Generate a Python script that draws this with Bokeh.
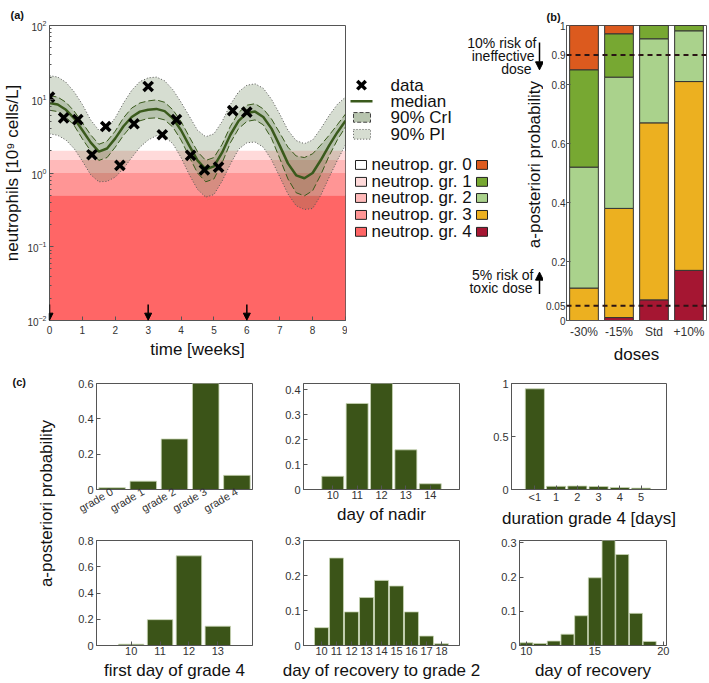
from math import pi
from bokeh.plotting import figure
from bokeh.models import (Range1d, FixedTicker, Arrow, NormalHead, Span,
                          ColumnDataSource, FactorRange)
from bokeh.layouts import row, column
from bokeh.embed import file_html
from bokeh.resources import INLINE
from bokeh.core.properties import value

FONT = "Liberation Sans"
AX = "#555555"
TXT = "#333333"
GREEN = "#5A7846"
DKGREEN = "#3A5A1C"
BARGREEN = "#3B5418"

# ---------------- panel (a) data ----------------
t_grid = [0.0, 0.25, 0.5, 0.75, 1.0, 1.25, 1.5, 1.75, 2.0, 2.25, 2.5, 2.75, 3.0, 3.25,
          3.5, 3.75, 4.0, 4.25, 4.5, 4.75, 5.0, 5.25, 5.5, 5.75, 6.0, 6.25, 6.5, 6.75,
          7.0, 7.25, 7.5, 7.75, 8.0, 8.25, 8.5, 8.75, 9.0]
median = [8.9, 8.5, 7.2, 5.5, 3.8, 2.6, 1.95, 2.15, 2.95, 4.3, 5.75, 6.8, 7.2, 7.4, 6.9,
          5.5, 3.8, 2.35, 1.48, 1.12, 1.23, 1.9, 3.3, 5.1, 6.5, 6.8, 5.75, 4.0, 2.35,
          1.35, 0.93, 0.85, 1.0, 1.5, 2.35, 3.55, 5.1]
cri_hi = [11.2, 10.7, 9.1, 6.9, 4.8, 3.3, 2.45, 2.7, 3.7, 5.6, 7.6, 8.9, 9.5, 9.8, 9.1,
          7.2, 5.0, 3.1, 1.95, 1.48, 1.62, 2.45, 4.3, 6.6, 8.3, 8.7, 7.4, 5.4, 3.5,
          2.24, 1.7, 1.62, 1.82, 2.4, 3.24, 4.5, 6.3]
cri_lo = [7.1, 6.8, 5.75, 4.4, 2.9, 2.0, 1.48, 1.62, 2.24, 3.24, 4.4, 5.1, 5.5, 5.6, 5.25,
          4.2, 2.8, 1.66, 1.0, 0.76, 0.83, 1.38, 2.57, 4.0, 5.0, 5.25, 4.5, 2.95, 1.58,
          0.83, 0.54, 0.49, 0.575, 0.95, 1.7, 2.8, 4.2]
pi_hi = [20.9, 20.0, 17.0, 12.6, 8.5, 5.25, 3.8, 4.0, 5.6, 8.9, 13.2, 17.4, 19.5, 20.0,
         17.8, 13.5, 9.1, 5.9, 3.8, 3.1, 3.4, 5.0, 8.5, 12.6, 15.5, 16.2, 14.1, 10.0,
         6.3, 3.8, 2.75, 2.5, 2.8, 4.0, 6.0, 8.5, 10.7]
pi_lo = [3.4, 3.24, 2.8, 2.14, 1.45, 0.95, 0.76, 0.77, 0.88, 1.15, 1.62, 2.24, 2.8, 3.2,
         3.1, 2.5, 1.62, 0.95, 0.6, 0.47, 0.51, 0.78, 1.32, 2.1, 2.57, 2.63, 2.24, 1.51,
         0.89, 0.52, 0.36, 0.32, 0.33, 0.50, 0.87, 1.48, 2.4]
t_obs = [0.0, 0.43, 0.86, 1.29, 1.71, 2.14, 2.57, 3.0, 3.43, 3.86, 4.29, 4.71, 5.14, 5.57, 6.0]
anc_obs = [10.7, 5.6, 5.3, 1.77, 4.27, 1.27, 4.65, 14.9, 3.3, 5.3, 1.73, 1.1, 1.2, 7.0, 6.7]
dose_times = [0, 3, 6]
# neutropenia grade bands (grade 4, 3, 2, 1)
band_lo = [0.001, 0.5, 1.0, 1.5]
band_hi = [0.5, 1.0, 1.5, 2.0]
band_colors = ["#FF6666", "#FF9595", "#FFB9B9", "#FFDADA"]

# ---------------- panel (b) data ----------------
doses = ["-30%", "-15%", "Std", "+10%"]
p_gr4 = [0.0, 0.01, 0.07, 0.17]
p_gr3 = [0.11, 0.37, 0.60, 0.64]
p_gr2 = [0.41, 0.445, 0.285, 0.172]
p_gr1 = [0.33, 0.147, 0.045, 0.018]
p_gr0 = [0.15, 0.028, 0.0, 0.0]
grade_colors = ["#DC5A1E", "#77A832", "#AAD28C", "#ECB020", "#A51632"]  # gr0..gr4

# ---------------- panel (c) data ----------------
grade_labels = ["grade 0", "grade 1", "grade 2", "grade 3", "grade 4"]
p_grade = [0.01, 0.047, 0.286, 0.60, 0.08]
nadir_days = [10, 11, 12, 13, 14]
p_nadir = [0.053, 0.345, 0.43, 0.159, 0.023]
dur_pos = [0, 1, 2, 3, 4, 5]
dur_labels = ["<1", "1", "2", "3", "4", "5"]
p_dur = [0.95, 0.03, 0.033, 0.028, 0.019, 0.013]
first_days = [10, 11, 12, 13]
p_first = [0.01, 0.197, 0.683, 0.147]
rec2_days = [10, 11, 12, 13, 14, 15, 16, 17, 18]
p_rec2 = [0.051, 0.25, 0.096, 0.137, 0.186, 0.17, 0.096, 0.027, 0.005]
rec_days = [10, 11, 12, 13, 14, 15, 16, 17, 18, 19]
p_rec = [0.008, 0.006, 0.013, 0.033, 0.087, 0.198, 0.308, 0.266, 0.094, 0.012]


def style(p, tick_size="11px", label_size="17px", tick_standoff=3, label_standoff=2):
    for ax in p.axis:
        ax.axis_line_color = AX
        ax.major_tick_line_color = AX
        ax.minor_tick_line_color = AX
        ax.major_tick_in = 4
        ax.major_tick_out = 0
        ax.minor_tick_in = 2
        ax.minor_tick_out = 0
        ax.major_label_text_font = FONT
        ax.major_label_text_font_size = tick_size
        ax.major_label_text_color = TXT
        ax.axis_label_text_font = FONT
        ax.axis_label_text_font_size = label_size
        ax.axis_label_text_font_style = "normal"
        ax.axis_label_text_color = "#111111"
        ax.major_label_standoff = tick_standoff
        ax.axis_label_standoff = label_standoff
    p.outline_line_color = AX
    p.grid.visible = False


def canvas(w, h):
    p = figure(width=w, height=h, x_range=Range1d(0, w), y_range=Range1d(h, 0),
               x_axis_location=None, y_axis_location=None, output_backend="svg",
               toolbar_location=None, min_border=0, outline_line_color=None)
    p.grid.visible = False
    return p


def txt(p, x, y, s, size, align="left", angle=0, style_="normal", color="#111111"):
    p.text(x=[x], y=[y], text=[s], text_font=value(FONT), text_font_size=size,
           text_align=align, text_baseline="middle", angle=angle,
           text_font_style=style_, text_color=color)


def panel_title(p, s, offset, standoff):
    p.title.text = s
    p.title.align = "left"
    p.title.offset = offset
    p.title.standoff = standoff
    p.title.text_font = FONT
    p.title.text_font_size = "11px"
    p.title.text_font_style = "bold"
    p.title.text_color = "#111111"


# ---------------- panel (a) ----------------
pa = figure(width=347, height=366, x_range=Range1d(0, 9), y_range=Range1d(0.01, 100),
            y_axis_type="log", output_backend="svg", toolbar_location=None,
            min_border_left=49, min_border_right=2, min_border_top=25, min_border_bottom=46)
pa.quad(left=0, right=9, bottom=band_lo, top=band_hi, fill_color=band_colors, line_color=None)
pa.varea(x=t_grid, y1=pi_lo, y2=pi_hi, fill_color=GREEN, fill_alpha=0.25)
pa.varea(x=t_grid, y1=cri_lo, y2=cri_hi, fill_color=GREEN, fill_alpha=0.25)
pa.line(t_grid, pi_lo, line_color="#555555", line_dash="1 2", line_width=1)
pa.line(t_grid, pi_hi, line_color="#555555", line_dash="1 2", line_width=1)
pa.line(t_grid, cri_lo, line_color=DKGREEN, line_dash="7 3", line_width=1)
pa.line(t_grid, cri_hi, line_color=DKGREEN, line_dash="7 3", line_width=1)
pa.line(t_grid, median, line_color=DKGREEN, line_width=2.5)
pa.scatter(t_obs, anc_obs, marker="x", size=13, line_color="black", line_width=3.5)
for d in dose_times:
    pa.add_layout(Arrow(end=NormalHead(size=7, fill_color="black", line_color="black"),
                        x_start=d, y_start=0.0165, x_end=d, y_end=0.0101,
                        line_color="black", line_width=1.5))
pa.xaxis.ticker = FixedTicker(ticks=list(range(10)))
pa.yaxis.ticker = FixedTicker(ticks=[0.01, 0.1, 1, 10, 100],
                              minor_ticks=[0.02, 0.03, 0.04, 0.05, 0.06, 0.07, 0.08, 0.09,
                                           0.2, 0.3, 0.4, 0.5, 0.6, 0.7, 0.8, 0.9,
                                           2, 3, 4, 5, 6, 7, 8, 9,
                                           20, 30, 40, 50, 60, 70, 80, 90])
pa.xaxis.axis_label = "time [weeks]"
pa.yaxis.axis_label = "neutrophils [10\u2079 cells/L]"
style(pa, tick_size="10px")
pa.xaxis.major_label_standoff = 5
pa.xaxis.axis_label_standoff = 3
panel_title(pa, "(a)", -39, 10)

# ---------------- legend / annotation strip ----------------
pl = canvas(196, 366)
pl.scatter(x=[14], y=[74], marker="x", size=12, line_color="black", line_width=3.5)
pl.line(x=[3, 25], y=[94, 94], line_color=DKGREEN, line_width=2.5)
pl.quad(left=[6], right=[23], top=[108], bottom=[120], fill_color=GREEN, fill_alpha=0.44,
        line_color="#444444", line_dash="4 2", line_width=1)
pl.quad(left=[6], right=[23], top=[129], bottom=[141], fill_color=GREEN, fill_alpha=0.25,
        line_color="#555555", line_dash="1 2", line_width=1)
for yy, s in zip([74, 94, 114, 135], ["data", "median", "90% CrI", "90% PI"]):
    txt(pl, 43, yy, s, "17px")
g_y = [173, 194, 214, 235, 256]
leg_a_colors = ["#FFFFFF", "#FFDADA", "#FFB9B9", "#FF9595", "#FF6666"]
pl.quad(left=[8] * 5, right=[19] * 5, top=[y - 5.5 for y in g_y], bottom=[y + 5.5 for y in g_y],
        fill_color=leg_a_colors, line_color="#222222", line_width=1)
pl.quad(left=[129] * 5, right=[140] * 5, top=[y - 5.5 for y in g_y], bottom=[y + 5.5 for y in g_y],
        fill_color=grade_colors, line_color="#222222", line_width=1)
for i, yy in enumerate(g_y):
    txt(pl, 24, yy, "neutrop. gr. %d" % i, "17px")
txt(pl, 189, 22, "10% risk of", "14px", align="right")
txt(pl, 187, 38, "ineffective", "14px", align="right")
txt(pl, 184, 54, "dose", "14px", align="right")
pl.add_layout(Arrow(end=NormalHead(size=8, fill_color="black", line_color="black"),
                    x_start=192, y_start=21, x_end=192, y_end=55, line_width=1.5))
txt(pl, 186, 309, "5% risk of", "14px", align="right")
txt(pl, 185, 326, "toxic dose", "14px", align="right")
pl.add_layout(Arrow(end=NormalHead(size=8, fill_color="black", line_color="black"),
                    x_start=192, y_start=333, x_end=192, y_end=306, line_width=1.5))
txt(pl, 187, 172.5, "a-posteriori probability", "17px", align="center", angle=pi / 2)

# ---------------- panel (b) ----------------
pb = figure(width=165, height=366, x_range=FactorRange(*doses), y_range=Range1d(0, 1),
            output_backend="svg", toolbar_location=None,
            min_border_left=23, min_border_right=2, min_border_top=22, min_border_bottom=43)
bsrc = ColumnDataSource(dict(dose=doses, g4=p_gr4, g3=p_gr3, g2=p_gr2, g1=p_gr1, g0=p_gr0))
pb.vbar_stack(["g4", "g3", "g2", "g1", "g0"], x="dose", width=0.82, source=bsrc,
              fill_color=[grade_colors[4], grade_colors[3], grade_colors[2],
                          grade_colors[1], grade_colors[0]],
              line_color="#333333", line_width=1)
pb.add_layout(Span(location=0.9, dimension="width", line_color="#2a1515",
                   line_dash="5 4", line_width=2))
pb.add_layout(Span(location=0.05, dimension="width", line_color="#2a1515",
                   line_dash="5 4", line_width=2))
b_ticks = [0, 0.05, 0.2, 0.4, 0.6, 0.8, 0.9, 1.0]
pb.yaxis.ticker = FixedTicker(ticks=b_ticks)
pb.yaxis.major_label_overrides = {0: "0", 0.05: "0.05", 0.2: "0.2", 0.4: "0.4",
                                  0.6: "0.6", 0.8: "0.8", 0.9: "0.9", 1.0: "1"}
pb.xaxis.axis_label = "doses"
style(pb, tick_size="10px")
pb.xaxis.major_tick_in = 0
pb.xaxis.major_label_text_font_size = "12px"
pb.xaxis.major_label_standoff = 4
pb.xaxis.axis_label_standoff = 3
pb.yaxis.major_label_standoff = 1
panel_title(pb, "(b)", -20, 6)

# ---------------- panel (c) ----------------
pc0 = canvas(56, 316)
txt(pc0, 12, 15, "(c)", "11px", style_="bold")
txt(pc0, 46, 137, "a-posteriori probability", "17px", align="center", angle=pi / 2)


def small(w, h, xr, y_end, mb, y_ticks, overrides, xlabel=None):
    p = figure(width=w, height=h, x_range=xr, y_range=Range1d(0, y_end),
               output_backend="svg", toolbar_location=None,
               min_border_left=mb[0], min_border_right=mb[1],
               min_border_top=mb[2], min_border_bottom=mb[3])
    p.yaxis.ticker = FixedTicker(ticks=y_ticks)
    p.yaxis.major_label_overrides = overrides
    if xlabel:
        p.xaxis.axis_label = xlabel
    style(p)
    p.xaxis.major_label_standoff = 1
    p.xaxis.axis_label_standoff = 3
    return p


c1 = small(226, 164, FactorRange(*grade_labels), 0.6, (40, 30, 17, 41),
           [0, 0.2, 0.4, 0.6], {0: "0"})
c1.vbar(x=grade_labels, top=p_grade, width=0.85, fill_color=BARGREEN, line_color="#C9D6B5",
        line_width=0.8)
c1.xaxis.major_label_orientation = pi / 6
c1.xaxis.major_tick_in = 0

c2 = small(208, 164, Range1d(8.8, 15.2), 0.425, (21, 31, 17, 41),
           [0, 0.1, 0.2, 0.3, 0.4], {0: "0"}, "day of nadir")
c2.vbar(x=nadir_days, top=p_nadir, width=0.9, fill_color=BARGREEN, line_color="#C9D6B5",
        line_width=0.8)
c2.xaxis.ticker = FixedTicker(ticks=nadir_days)

c3 = small(218, 164, Range1d(-1.1, 6.2), 1.0, (21, 42, 17, 41),
           [0, 0.5, 1.0], {0: "0", 1: "1"}, "duration grade 4 [days]")
c3.vbar(x=dur_pos, top=p_dur, width=0.9, fill_color=BARGREEN, line_color="#C9D6B5",
        line_width=0.8)
c3.xaxis.ticker = FixedTicker(ticks=dur_pos)
c3.xaxis.major_label_overrides = dict(zip(dur_pos, dur_labels))

c4 = small(226, 152, Range1d(8.8, 14.2), 0.8, (40, 30, 10, 37),
           [0, 0.2, 0.4, 0.6, 0.8], {0: "0"}, "first day of grade 4")
c4.vbar(x=first_days, top=p_first, width=0.88, fill_color=BARGREEN, line_color="#C9D6B5",
        line_width=0.8)
c4.xaxis.ticker = FixedTicker(ticks=first_days)

c5 = small(208, 152, Range1d(8.8, 19.2), 0.3, (21, 31, 10, 37),
           [0, 0.1, 0.2, 0.3], {0: "0"}, "day of recovery to grade 2")
c5.vbar(x=rec2_days, top=p_rec2, width=0.93, fill_color=BARGREEN, line_color="#C9D6B5",
        line_width=0.8)
c5.xaxis.ticker = FixedTicker(ticks=rec2_days)

c6 = small(218, 152, Range1d(9.5, 20.23), 0.307, (29, 42, 10, 37),
           [0, 0.1, 0.2, 0.3], {0: "0"}, "day of recovery")
c6.vbar(x=rec_days, top=p_rec, width=0.95, fill_color=BARGREEN, line_color="#C9D6B5",
        line_width=0.8)
c6.xaxis.ticker = FixedTicker(ticks=[10, 15, 20])

layout = column(row(pa, pl, pb),
                row(pc0, column(row(c1, c2, c3), row(c4, c5, c6))))

open("out.html", "w").write(file_html(layout, INLINE, title="neutropenia"))
